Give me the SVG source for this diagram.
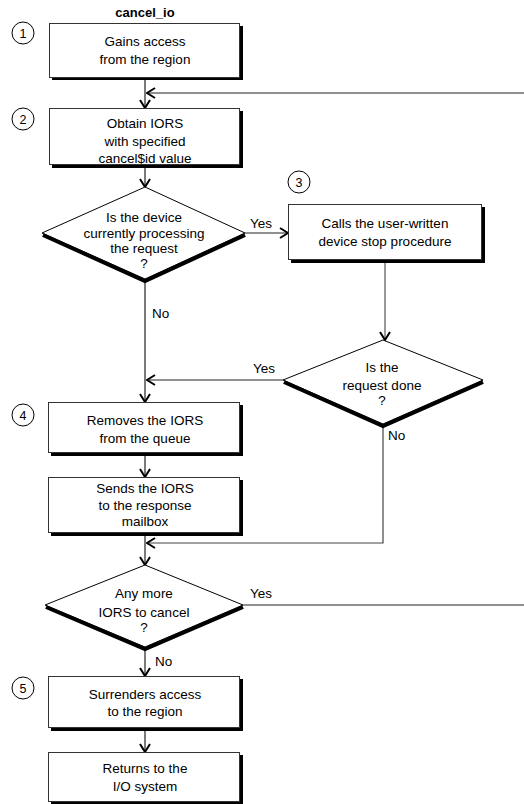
<svg xmlns="http://www.w3.org/2000/svg" width="524" height="804" viewBox="0 0 524 804">
  <style>
    text { font-family: "Liberation Sans", Arial, sans-serif; font-size: 13.5px; fill: #000; text-anchor: middle; }
    .title { font-weight: bold; font-size: 13px; }
    .lbl { text-anchor: start; }
    .num { font-size: 12.5px; }
    .box { fill: #fff; stroke: #333; stroke-width: 1; }
    .shadow { fill: none; stroke: #000; stroke-width: 3; }
    .dia { fill: #fff; stroke: #000; stroke-width: 1; }
    .dshadow { fill: none; stroke: #000; stroke-width: 4; stroke-linejoin: miter; }
    .step { fill: #fff; stroke: #000; stroke-width: 1; }
    .conn { fill: none; stroke: #222; stroke-width: 1.2; }
    .arr { marker-end: url(#head); }
  </style>
  <defs>
    <marker id="head" viewBox="0 0 10 12" refX="9" refY="6" markerWidth="10" markerHeight="12" markerUnits="userSpaceOnUse" orient="auto">
      <path d="M1,1 L9,6 L1,11" fill="none" stroke="#000" stroke-width="2"/>
    </marker>
  </defs>

  <rect width="524" height="804" fill="#fff"/>

  <text class="title" x="145" y="17">cancel_io</text>

  <!-- connectors -->
  <g id="connectors">
    <path class="conn arr" d="M145,80 V108"/>
    <path class="conn arr" d="M524,93 H147"/>
    <path class="conn arr" d="M145,168 V187"/>
    <path class="conn arr" d="M245,233 H288"/>
    <path class="conn arr" d="M145,280 V402"/>
    <path class="conn arr" d="M385,262 V340" style="stroke:#555"/>
    <path class="conn arr" d="M283,380 H147"/>
    <path class="conn arr" d="M383,426 V543 H147" style="stroke:#444"/>
    <path class="conn arr" d="M145,456 V477"/>
    <path class="conn arr" d="M145,536 V565"/>
    <path class="conn" d="M243,605 H524"/>
    <path class="conn arr" d="M145,650 V676"/>
    <path class="conn arr" d="M145,731 V752"/>
    <text class="lbl" x="250" y="228">Yes</text>
    <text class="lbl" x="152" y="318">No</text>
    <text class="lbl" x="253" y="373">Yes</text>
    <text class="lbl" x="388" y="440">No</text>
    <text class="lbl" x="250" y="598">Yes</text>
    <text class="lbl" x="155" y="666">No</text>
  </g>

  <!-- step 1 -->
  <g id="step1">
    <circle class="step" cx="23" cy="33" r="11"/>
    <text class="num" x="23" y="38">1</text>
    <path class="shadow" d="M241.5,26 V78.5 H52"/>
    <rect class="box" x="49.5" y="23.5" width="190" height="54"/>
    <text x="145" y="46">Gains access</text>
    <text x="145" y="64">from the region</text>
  </g>

  <!-- step 2 -->
  <g id="step2">
    <circle class="step" cx="23" cy="119" r="11"/>
    <text class="num" x="23" y="124">2</text>
    <path class="shadow" d="M241.5,111 V166.5 H52"/>
    <rect class="box" x="49.5" y="108.5" width="190" height="56"/>
    <text x="145" y="128">Obtain IORS</text>
    <text x="145" y="146">with specified</text>
    <text x="145" y="163">cancel$id value</text>
  </g>

  <!-- decision: device busy -->
  <g id="decision1">
    <polygon class="dia" points="145,187 245,233 145,279 42,233"/>
    <polyline class="dshadow" points="43,235 145,281 245,235"/>
    <text x="144" y="222">Is the device</text>
    <text x="144" y="238">currently processing</text>
    <text x="144" y="253">the request</text>
    <text x="144" y="268">?</text>
  </g>

  <!-- step 3 -->
  <g id="step3">
    <circle class="step" cx="299" cy="182" r="11"/>
    <text class="num" x="299" y="187">3</text>
    <path class="shadow" d="M483.5,207 V261.5 H291"/>
    <rect class="box" x="288.5" y="204.5" width="193" height="55"/>
    <text x="385" y="228">Calls the user-written</text>
    <text x="385" y="246">device stop procedure</text>
  </g>

  <!-- decision: request done -->
  <g id="decision2">
    <polygon class="dia" points="383,340 483,380 383,424 283,380"/>
    <polyline class="dshadow" points="284,382 383,426 483,382"/>
    <text x="382" y="372">Is the</text>
    <text x="382" y="390">request done</text>
    <text x="382" y="405">?</text>
  </g>

  <!-- step 4 -->
  <g id="step4">
    <circle class="step" cx="23" cy="415" r="11"/>
    <text class="num" x="23" y="420">4</text>
    <path class="shadow" d="M241.5,405 V454.5 H51"/>
    <rect class="box" x="48.5" y="402.5" width="191" height="50"/>
    <text x="145" y="425">Removes the IORS</text>
    <text x="145" y="443">from the queue</text>
  </g>

  <!-- send to mailbox -->
  <g id="sendIors">
    <path class="shadow" d="M241.5,480 V534.5 H51"/>
    <rect class="box" x="48.5" y="477.5" width="191" height="55"/>
    <text x="145" y="493">Sends the IORS</text>
    <text x="145" y="510">to the response</text>
    <text x="145" y="526">mailbox</text>
  </g>

  <!-- decision: more IORS -->
  <g id="decision3">
    <polygon class="dia" points="145,565 243,605 145,647 45,605"/>
    <polyline class="dshadow" points="46,607 145,649 243,607"/>
    <text x="144" y="598">Any more</text>
    <text x="144" y="617">IORS to cancel</text>
    <text x="144" y="632">?</text>
  </g>

  <!-- step 5 -->
  <g id="step5">
    <circle class="step" cx="23" cy="688" r="11"/>
    <text class="num" x="23" y="693">5</text>
    <path class="shadow" d="M241.5,679 V729.5 H51"/>
    <rect class="box" x="48.5" y="676.5" width="191" height="51"/>
    <text x="145" y="699">Surrenders access</text>
    <text x="145" y="716">to the region</text>
  </g>

  <!-- return -->
  <g id="returnIo">
    <path class="shadow" d="M241.5,755 V803.5 H51"/>
    <rect class="box" x="48.5" y="752.5" width="191" height="49"/>
    <text x="145" y="773">Returns to the</text>
    <text x="145" y="791">I/O system</text>
  </g>
</svg>
